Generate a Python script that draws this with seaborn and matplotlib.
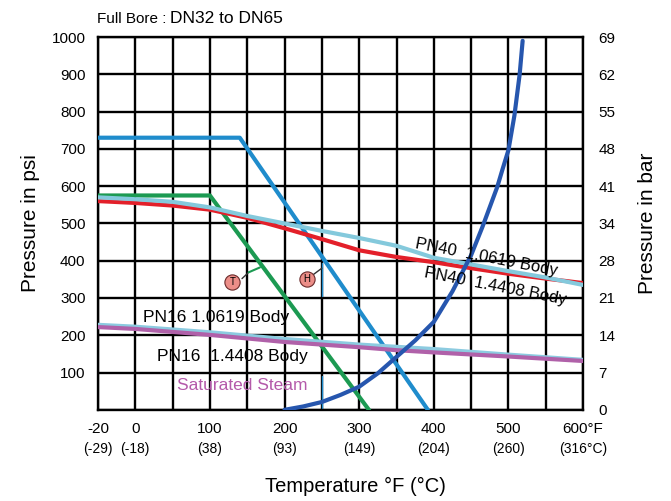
import numpy as np
import matplotlib
matplotlib.use("Agg")
import matplotlib.pyplot as plt
import seaborn as sns

# chart units: the first gridline (-50) carries the -20°F start
x_ticks = [-50, 0, 100, 200, 300, 400, 500, 600]
x_labels = ["-20", "0", "100", "200", "300", "400", "500", "600°F"]
c_labels = ["(-29)", "(-18)", "(38)", "(93)", "(149)", "(204)", "(260)", "(316°C)"]
psi_ticks = [100, 200, 300, 400, 500, 600, 700, 800, 900, 1000]
bar_labels = [0, 7, 14, 21, 28, 34, 41, 48, 55, 62, 69]

# H curve (blue)
h_x = [-50, 140, 392]
h_y = [730, 730, 0]
# T curve (green)
t_x = [-50, 100, 313]
t_y = [575, 575, 0]
# PN40 1.4408 Body (red)
pn40_44_x = [-50, 0, 50, 100, 150, 200, 250, 300, 350, 400, 450, 500, 550, 600]
pn40_44_y = [560, 555, 548, 537, 515, 487, 458, 428, 410, 396, 380, 365, 352, 340]
# PN40 1.0619 Body (light cyan)
pn40_10_x = [-50, 0, 50, 100, 150, 200, 250, 300, 350, 400, 450, 500, 550, 600]
pn40_10_y = [570, 565, 558, 543, 520, 500, 480, 461, 440, 408, 390, 372, 355, 335]
# PN16 1.0619 Body (light cyan)
pn16_10_x = [-50, 0, 100, 200, 300, 400, 500, 600]
pn16_10_y = [228, 223, 208, 190, 175, 163, 148, 134]
# PN16 1.4408 Body (purple)
pn16_44_x = [-50, 0, 100, 200, 250, 300, 350, 400, 500, 600]
pn16_44_y = [222, 217, 201, 182, 175, 168, 160, 154, 143, 131]
# saturated steam
steam_x = [200, 225, 250, 275, 300, 325, 350, 375, 400, 425, 450, 465, 485, 492, 500, 508, 515, 519]
steam_y = [0, 9, 21, 40, 62, 98, 142, 186, 236, 318, 415, 490, 598, 645, 697, 790, 900, 990]

sns.set_style("white")
plt.rcParams["font.family"] = ["Liberation Sans", "DejaVu Sans"]
plt.rcParams["text.color"] = "black"
plt.rcParams["axes.labelcolor"] = "black"
plt.rcParams["xtick.color"] = "black"
plt.rcParams["ytick.color"] = "black"

fig = plt.figure(figsize=(6.71, 5.01), dpi=100)
ax = fig.add_axes([0.146, 0.182, 0.723, 0.744])

# grid
for gx in range(-50, 601, 50):
    ax.axvline(gx, color="black", lw=1.7, zorder=1)
for gy in range(0, 1001, 100):
    ax.axhline(gy, color="black", lw=1.7, zorder=1)

lw = 3.0
sns.lineplot(x=h_x, y=h_y, ax=ax, color="#1f8ccc", lw=lw, zorder=3)
sns.lineplot(x=t_x, y=t_y, ax=ax, color="#1c9a52", lw=lw, zorder=3)
sns.lineplot(x=pn40_44_x, y=pn40_44_y, ax=ax, color="#e3202a", lw=lw, zorder=4)
sns.lineplot(x=pn40_10_x, y=pn40_10_y, ax=ax, color="#84c9dc", lw=lw, zorder=5)
sns.lineplot(x=pn16_10_x, y=pn16_10_y, ax=ax, color="#8ccbe0", lw=lw, zorder=4)
sns.lineplot(x=pn16_44_x, y=pn16_44_y, ax=ax, color="#b061a9", lw=lw, zorder=5)
sns.lineplot(x=steam_x, y=steam_y, ax=ax, color="#2656ae", lw=lw, zorder=6)

# H / T markers with leader lines
ax.plot([143, 152], [352, 369], color="#333333", lw=1.0, zorder=6)
ax.plot([152, 167], [369, 382], color="#1c9a52", lw=1.5, zorder=6)
ax.plot([238, 250], [362, 380], color="#333333", lw=1.0, zorder=6)
ax.plot([250, 250], [395, 305], color="#1f8ccc", lw=1.0, zorder=2)
ax.plot([250, 250], [90, 0], color="#1f8ccc", lw=1.0, zorder=2)
ax.scatter([130, 230], [343, 352], s=120, color="#ec8e88", edgecolor="#6a2a2a",
           linewidth=0.8, zorder=7)
ax.text(130, 343, "T", ha="center", va="center", fontsize=7, zorder=8)
ax.text(230, 352, "H", ha="center", va="center", fontsize=7, zorder=8)

# curve labels
ax.text(470, 410, "PN40  1.0619 Body", rotation=-11, ha="center", va="center",
        fontsize=12, zorder=9)
ax.text(482, 330, "PN40  1.4408 Body", rotation=-11, ha="center", va="center",
        fontsize=12, zorder=9)
ax.text(108, 247, "PN16 1.0619 Body", ha="center", va="center", fontsize=12.5, zorder=9)
ax.text(130, 142, "PN16  1.4408 Body", ha="center", va="center", fontsize=12.5, zorder=9)
ax.text(143, 64, "Saturated Steam", ha="center", va="center", fontsize=12.5,
        color="#b45aaa", zorder=9)

ax.set_xlim(-50, 600)
ax.set_ylim(0, 1000)
ax.set_xticks(x_ticks)
ax.set_xticklabels(x_labels, fontsize=11)
ax.set_yticks(psi_ticks)
ax.set_yticklabels([str(v) for v in psi_ticks], fontsize=11)
ax.tick_params(length=0, pad=9)
for xt, cl in zip(x_ticks, c_labels):
    ax.text(xt, -0.105, cl, transform=ax.get_xaxis_transform(), ha="center",
            va="center", fontsize=10)
for sp in ax.spines.values():
    sp.set_color("black")
    sp.set_linewidth(1.7)
ax.set_ylabel("Pressure in psi", fontsize=15, va="center")
ax.yaxis.set_label_coords(-0.14, 0.5)
ax.set_xlabel("Temperature °F (°C)", fontsize=14.5, va="center")
ax.xaxis.set_label_coords(0.53, -0.206)

ax2 = ax.twinx()
ax2.set_ylim(0, 1000)
ax2.set_yticks(np.arange(0, 1001, 100))
ax2.set_yticklabels([str(v) for v in bar_labels], fontsize=11)
ax2.tick_params(length=0, pad=11)
for sp in ax2.spines.values():
    sp.set_visible(False)
ax2.set_ylabel("Pressure in bar", fontsize=15, rotation=90, labelpad=16)

fig.text(0.145, 0.962, "Full Bore : ", fontsize=11, ha="left", va="center")
fig.text(0.253, 0.964, "DN32 to DN65", fontsize=12.5, ha="left", va="center")

fig.savefig("out.png", dpi=100)
